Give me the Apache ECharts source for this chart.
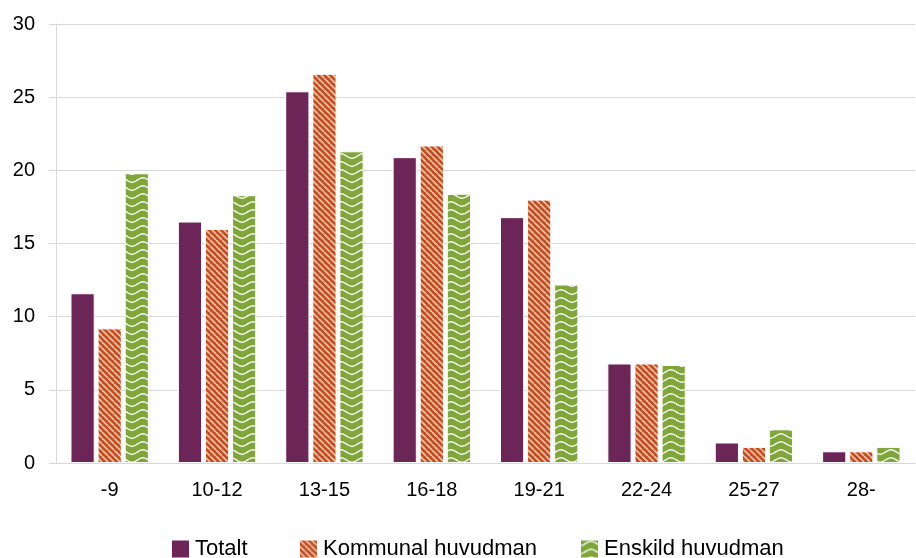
<!DOCTYPE html>
<html><head><meta charset="utf-8">
<script src="https://cdn.jsdelivr.net/npm/echarts@6/dist/echarts.min.js"></script>
<style>html,body{margin:0;padding:0;background:#fff}#c{width:916px;height:558px}</style>
</head><body><div id="c"></div>
<script>
var categories = ['-9','10-12','13-15','16-18','19-21','22-24','25-27','28-'];
var totalt = [11.6, 16.5, 25.4, 20.9, 16.8, 6.8, 1.4, 0.8];
var kommunal = [9.2, 16.0, 26.6, 21.7, 18.0, 6.8, 1.1, 0.8];
var enskild = [19.8, 18.3, 21.3, 18.4, 12.2, 6.7, 2.3, 1.1];
var seriesNames = ['Totalt', 'Kommunal huvudman', 'Enskild huvudman'];

function stripePattern() {
  var c = document.createElement('canvas'); c.width = 6; c.height = 6;
  var g = c.getContext('2d');
  g.fillStyle = '#c24e22'; g.fillRect(0,0,6,6);
  g.strokeStyle = '#f1c3a6'; g.lineWidth = 1.6;
  for (var o = -6; o <= 6; o += 6) { g.beginPath(); g.moveTo(o, 0); g.lineTo(o + 6, 6); g.stroke(); }
  return c;
}
function wavePattern() {
  var c = document.createElement('canvas'); c.width = 22; c.height = 8;
  var g = c.getContext('2d');
  g.fillStyle = '#7fa53b'; g.fillRect(0,0,22,8);
  g.strokeStyle = '#f3f8e6'; g.lineWidth = 1.5;
  g.beginPath();
  for (var x = 0; x <= 22; x += 0.5) {
    var y = 4 + 2.2 * Math.cos(x / 22 * 2 * Math.PI);
    if (x === 0) g.moveTo(x, y); else g.lineTo(x, y);
  }
  g.stroke();
  return c;
}
var kPat = { image: stripePattern(), repeat: 'repeat' };
var ePat = { image: wavePattern(), repeat: 'repeat' };

var chart = echarts.init(document.getElementById('c'), null, {renderer: 'canvas'});
var font = 'Liberation Sans, Arial, sans-serif';
var legendLefts = [170, 298, 579];
var legends = seriesNames.map(function (n, i) {
  return {
    top: 538, left: legendLefts[i], itemWidth: 19, itemHeight: 19, itemGap: 0, padding: 0,
    icon: 'rect',
    textStyle: { fontFamily: font, fontSize: 22, color: '#000' },
    data: [n]
  };
});
chart.setOption({
  animation: false,
  grid: { left: 56, right: 1, top: 24, bottom: 95 },
  legend: legends,
  xAxis: {
    type: 'category', data: categories,
    axisLine: { show: true, lineStyle: { color: '#d9d9d9', width: 1 } },
    axisTick: { show: false },
    axisLabel: { fontFamily: font, fontSize: 20, color: '#000', margin: 17 }
  },
  yAxis: {
    type: 'value', min: 0, max: 30, interval: 5,
    axisLine: { show: true, lineStyle: { color: '#d9d9d9' } },
    axisTick: { show: true, length: 7, lineStyle: { color: '#d9d9d9' } },
    splitLine: { lineStyle: { color: '#d9d9d9', width: 1 } },
    axisLabel: { fontFamily: font, fontSize: 20, color: '#000', margin: 21 }
  },
  series: [
    { name: seriesNames[0], type: 'bar', data: totalt, barGap: '12%', barCategoryGap: '27%',
      itemStyle: { color: '#6b2557', borderColor: '#fff', borderWidth: 1 } },
    { name: seriesNames[1], type: 'bar', data: kommunal, barGap: '12%', barCategoryGap: '27%',
      itemStyle: { color: kPat, borderColor: '#fff', borderWidth: 1 } },
    { name: seriesNames[2], type: 'bar', data: enskild, barGap: '12%', barCategoryGap: '27%',
      itemStyle: { color: ePat, borderColor: '#fff', borderWidth: 1 } }
  ]
});
</script></body></html>
